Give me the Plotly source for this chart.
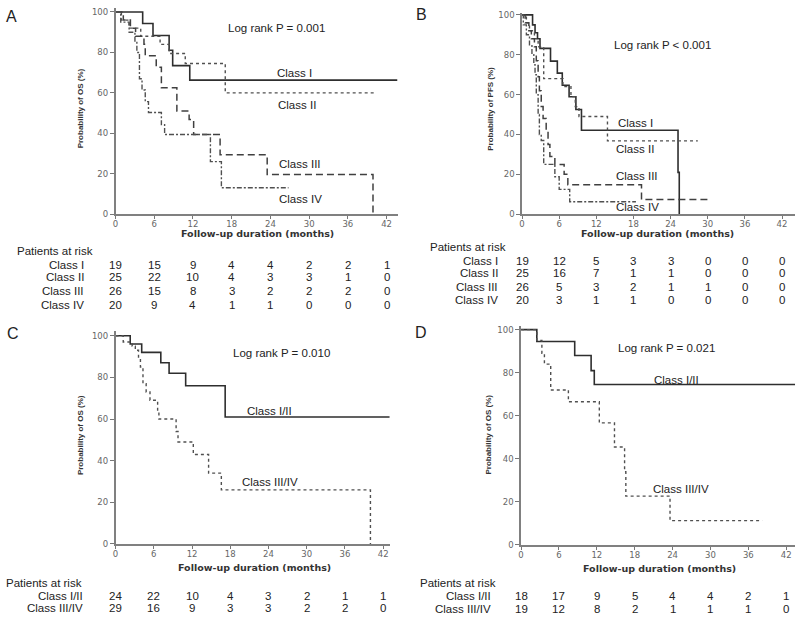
import plotly.graph_objects as go

W, H = 800, 623
def px(x): return x / W
def py(y): return 1 - y / H

# ---------------- DATA ----------------
# Panel A: OS by class
A_I_t = [0, 4.2, 5.8, 8.3, 8.85, 11.5, 43.7]
A_I_s = [100, 94.3, 88.4, 81.1, 73.5, 66.3, 66.3]
A_II_t = [0, 0.9, 2.1, 3.9, 6.9, 8.3, 10.8, 17.0, 40.4]
A_II_s = [100, 96, 92, 88, 84, 79.5, 74.5, 60, 60]
A_III_t = [0, 1.2, 2.3, 3.1, 4.4, 4.6, 6.3, 7.1, 9.5, 11.4, 12.1, 16.2, 23.5, 39.9]
A_III_s = [100, 96, 92, 88, 84, 78.4, 72.7, 62.5, 51, 46.8, 39.4, 29.4, 19.6, 0]
A_IV_t = [0, 0.8, 2.1, 3.0, 3.3, 3.7, 4.1, 4.6, 5.1, 7.1, 7.6, 14.7, 16.4, 26.8]
A_IV_s = [100, 95, 90, 85, 80, 67, 61.4, 55.7, 50.3, 44.3, 39.4, 26, 13.1, 13.1]

# Panel B: PFS by class
B_I_t = [0, 1.7, 2.1, 2.5, 2.9, 4.6, 5.7, 6.5, 7.6, 8.7, 9.6, 25.2, 25.4]
B_I_s = [100, 95, 91, 88, 83.2, 76.8, 70.8, 64.7, 58.9, 52.5, 42.1, 21, 0]
B_II_t = [0, 0.7, 1.2, 2.0, 2.6, 3.5, 6.6, 7.9, 8.6, 9.2, 13.8, 28.4]
B_II_s = [100, 96, 92, 88, 84, 68, 64, 59, 54, 49, 36.8, 36.8]
B_III_t = [0, 0.5, 1.1, 1.5, 2.0, 2.3, 2.6, 2.8, 3.1, 3.4, 3.9, 4.2, 4.5, 5.3, 6.8, 7.4, 19.3, 30.5]
B_III_s = [100, 96, 92, 88, 84, 77, 69, 62, 54, 48, 42, 35, 29, 25, 20, 14.8, 7.4, 7.4]
B_IV_t = [0, 0.2, 0.7, 1.2, 1.6, 1.9, 2.1, 2.3, 2.6, 2.8, 3.1, 3.5, 5.3, 6.0, 7.7, 18.4]
B_IV_s = [100, 95, 90, 85, 80, 75, 70, 60, 50, 40, 37, 25, 18.8, 12.5, 6.3, 6.3]

# Panel C: OS, Class I/II vs III/IV
C_12_t = [0, 2.3, 4.1, 7.1, 8.4, 11.0, 17.2, 43.1]
C_12_s = [100, 96, 92, 87, 82, 76, 61, 61]
C_34_t = [0, 1.2, 2.6, 3.1, 3.6, 3.9, 4.3, 4.8, 5.4, 6.6, 6.8, 9.5, 9.8, 12.2, 14.6, 16.6, 40.0]
C_34_s = [100, 97, 95, 93, 89, 85, 77, 73, 69, 64, 60, 54, 49, 43, 34, 26, 0]

# Panel D: OS, Class I/II vs III/IV
D_12_t = [0, 2.5, 8.5, 11.1, 11.6, 43.7]
D_12_s = [100, 94.5, 88, 81, 74.5, 74.5]
D_34_t = [0, 2.5, 3.3, 3.7, 4.7, 7.5, 12.4, 14.8, 16.4, 16.6, 23.6, 38.2]
D_34_s = [100, 95, 89, 84, 72, 66.5, 56.7, 45.5, 34, 22.7, 11.3, 11.3]

# Risk tables
risk_times = [0, 6, 12, 18, 24, 30, 36, 42]
A_risk_labels = ["Class I", "Class II", "Class III", "Class IV"]
A_risk = [[19, 15, 9, 4, 4, 2, 2, 1],
          [25, 22, 10, 4, 3, 3, 1, 0],
          [26, 15, 8, 3, 2, 2, 2, 0],
          [20, 9, 4, 1, 1, 0, 0, 0]]
B_risk_labels = ["Class I", "Class II", "Class III", "Class IV"]
B_risk = [[19, 12, 5, 3, 3, 0, 0, 0],
          [25, 16, 7, 1, 1, 0, 0, 0],
          [26, 5, 3, 2, 1, 1, 0, 0],
          [20, 3, 1, 1, 0, 0, 0, 0]]
C_risk_labels = ["Class I/II", "Class III/IV"]
C_risk = [[24, 22, 10, 4, 3, 2, 1, 1],
          [29, 16, 9, 3, 3, 2, 2, 0]]
D_risk_labels = ["Class I/II", "Class III/IV"]
D_risk = [[18, 17, 9, 5, 4, 4, 2, 1],
          [19, 12, 8, 2, 1, 1, 1, 0]]

# ---------------- FIGURE ----------------
fig = go.Figure()

STY = {
    "solid": dict(color="#2e2e2e", width=1.6, dash="solid"),
    "dot": dict(color="#505050", width=1.4, dash="dot"),
    "dash": dict(color="#404040", width=1.5, dash="7px,4px"),
    "dashdot": dict(color="#505050", width=1.4, dash="5px,2px,2px,2px"),
}

def add(t, s, sty, xa, ya):
    fig.add_trace(go.Scatter(x=t, y=s, mode="lines", line=dict(shape="hv", **STY[sty]),
                             xaxis=xa, yaxis=ya, showlegend=False, hoverinfo="skip"))

add(A_I_t, A_I_s, "solid", "x", "y")
add(A_II_t, A_II_s, "dot", "x", "y")
add(A_III_t, A_III_s, "dash", "x", "y")
add(A_IV_t, A_IV_s, "dashdot", "x", "y")

add(B_I_t, B_I_s, "solid", "x2", "y2")
add(B_II_t, B_II_s, "dot", "x2", "y2")
add(B_III_t, B_III_s, "dash", "x2", "y2")
add(B_IV_t, B_IV_s, "dashdot", "x2", "y2")

add(C_12_t, C_12_s, "solid", "x3", "y3")
add(C_34_t, C_34_s, "dot", "x3", "y3")

add(D_12_t, D_12_s, "solid", "x4", "y4")
add(D_34_t, D_34_s, "dot", "x4", "y4")

tickfont = dict(family="DejaVu Sans", size=8.5, color="#666666")
def xax(dom, rng, anchor):
    return dict(domain=[px(dom[0]), px(dom[1])], range=rng, anchor=anchor,
                tickvals=risk_times, ticks="outside", ticklen=3, tickcolor="#777777",
                showline=True, linecolor="#808080", linewidth=1.5, showgrid=False,
                zeroline=False, tickfont=tickfont, ticklabelstandoff=-2)
def yax(dom, rng, anchor):
    return dict(domain=[py(dom[1]), py(dom[0])], range=rng, anchor=anchor,
                tickvals=[0, 20, 40, 60, 80, 100], ticks="outside", ticklen=4,
                tickcolor="#777777", showline=True, linecolor="#808080", linewidth=1.5,
                showgrid=False, zeroline=False, tickfont=tickfont)

fig.update_layout(
    width=W, height=H, margin=dict(l=0, r=0, t=0, b=0),
    paper_bgcolor="white", plot_bgcolor="white",
    xaxis=xax((113, 396), [0, 43.7], "y"),
    yaxis=yax((5, 214), [0, 102], "x"),
    xaxis2=xax((521, 795), [0, 44.1], "y2"),
    yaxis2=yax((10, 214), [0, 101], "x2"),
    xaxis3=xax((113, 388), [0, 43.0], "y3"),
    yaxis3=yax((332, 548), [0, 102.4], "x3"),
    xaxis4=xax((520, 795), [0, 43.4], "y4"),
    yaxis4=yax((327, 549), [0, 101.8], "x4"),
)

ann = []
TF = dict(family="Liberation Sans, Arial", size=11.5, color="#222222")

def txt(x, y, s, xref="paper", yref="paper", size=11.5, xanchor="center", **kw):
    f = dict(TF); f["size"] = size
    f.update(kw.pop("font", {}))
    ann.append(dict(x=x, y=y, xref=xref, yref=yref, text=s, showarrow=False,
                    xanchor=xanchor, yanchor="middle", font=f, **kw))

# panel letters
txt(px(9), py(14), "A", size=16)
txt(px(420), py(12), "B", size=16)
txt(px(10), py(335), "C", size=16)
txt(px(420), py(334), "D", size=16)

# log-rank & curve labels (data coords)
txt(25.0, 92.2, "Log rank P = 0.001", "x", "y")
txt(27.8, 69.8, "Class I", "x", "y")
txt(28.1, 54.1, "Class II", "x", "y")
txt(28.6, 24.9, "Class III", "x", "y")
txt(28.6, 7.3, "Class IV", "x", "y")

txt(22.7, 84.7, "Log rank P < 0.001", "x2", "y2")
txt(18.3, 46, "Class I", "x2", "y2")
txt(18.3, 32.7, "Class II", "x2", "y2")
txt(18.5, 19.3, "Class III", "x2", "y2")
txt(18.7, 3.5, "Class IV", "x2", "y2")

txt(26.1, 91.5, "Log rank P = 0.010", "x3", "y3")
txt(24.1, 64, "Class I/II", "x3", "y3")
txt(24.2, 29.9, "Class III/IV", "x3", "y3")

txt(23.1, 91.3, "Log rank P = 0.021", "x4", "y4")
txt(24.6, 76.6, "Class I/II", "x4", "y4")
txt(25.4, 26.1, "Class III/IV", "x4", "y4")

# axis titles
XT = dict(family="DejaVu Sans", color="#333333")
for cx, cy in [(255, 234), (657, 234), (252, 572), (659, 573)]:
    txt(px(cx), py(cy), "<b>Follow-up duration (months)</b>", size=9.5, font=XT)
YT = dict(family="Liberation Sans, Arial", color="#333333")
for cx, cy, lab in [(78, 107, "OS"), (489, 107, "PFS"), (78, 438, "OS"), (487, 437, "OS")]:
    txt(px(cx), py(cy), "<b>Probability of %s (%%)</b>" % lab, size=8, font=YT, textangle=-90)

# risk tables
def table(xref, par_x, par_y, lab_right, rows_y, labels, data):
    txt(px(par_x), py(par_y), "Patients at risk", xanchor="left")
    for ry, lab, vals in zip(rows_y, labels, data):
        txt(px(lab_right), py(ry), lab, xanchor="right")
        for t, v in zip(risk_times, vals):
            txt(t, py(ry), str(v), xref=xref, yref="paper")

table("x", 12, 251, 83, [265, 278, 292, 306], A_risk_labels, A_risk)
table("x2", 427, 247, 499, [261, 274, 288, 301], B_risk_labels, B_risk)
table("x3", 1, 588, 82, [601, 613], C_risk_labels, C_risk)
table("x4", 417, 588, 492, [601, 614], D_risk_labels, D_risk)

fig.update_layout(annotations=ann)
fig.write_html("out.html", config={"displayModeBar": False},
               post_script="document.body.style.margin='0';document.body.style.padding='0';")
